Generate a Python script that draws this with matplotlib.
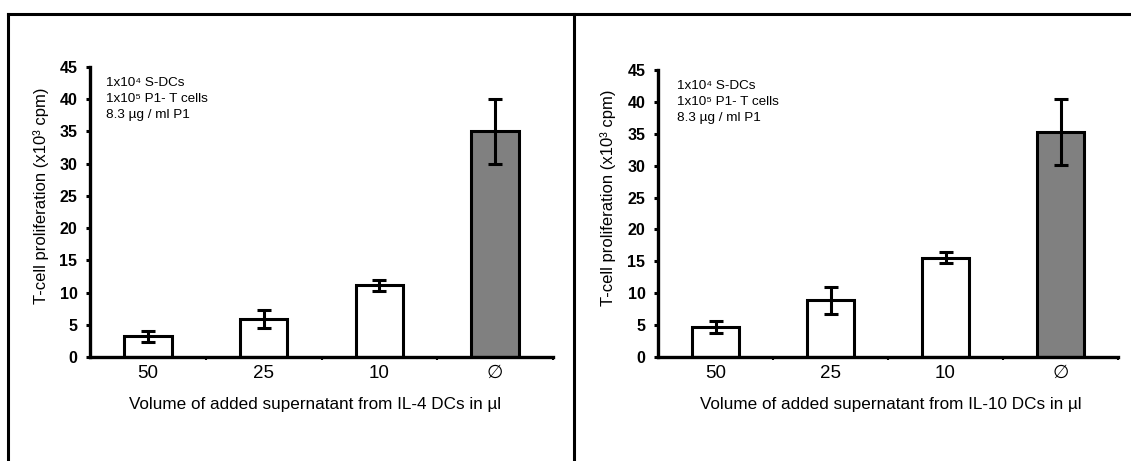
import matplotlib
matplotlib.use('Agg')
import matplotlib.pyplot as plt
from matplotlib.lines import Line2D
import numpy as np

plt.rcParams['font.family'] = ['Liberation Sans', 'DejaVu Sans']

categories = ['50', '25', '10', '\u2205']

il4_vals = [3.2, 5.9, 11.1, 35.0]
il4_err = [0.9, 1.4, 0.9, 5.0]

il10_vals = [4.7, 8.9, 15.6, 35.3]
il10_err = [0.9, 2.1, 0.9, 5.2]

bar_colors = ['white', 'white', 'white', '#808080']

W, H = 1131, 461
fig = plt.figure(figsize=(W / 100, H / 100), dpi=100)


def panel(rect, vals, errs, xlabel, xl_x, yl_x, txt_x):
    ax = fig.add_axes(rect)
    x = np.arange(len(vals)) + 0.5
    ax.bar(x, vals, width=0.41, color=bar_colors, edgecolor='black',
           linewidth=2.2, zorder=2)
    ax.errorbar(x, vals, yerr=errs, fmt='none', ecolor='black',
                elinewidth=2.2, capsize=5.2, capthick=2.2, zorder=3)
    ax.set_xlim(0, 4)
    ax.set_ylim(0, 45)
    for s in ['top', 'right']:
        ax.spines[s].set_visible(False)
    for s in ['left', 'bottom']:
        ax.spines[s].set_linewidth(2.4)
    ax.set_yticks(range(0, 46, 5))
    ax.tick_params(axis='y', direction='out', length=3, width=2.2, pad=6)
    for lab in ax.get_yticklabels():
        lab.set_fontweight('bold')
        lab.set_fontsize(11.5)
    ax.set_xticks([1, 2, 3, 4])
    ax.set_xticklabels([])
    ax.tick_params(axis='x', which='major', direction='out', length=2, width=1.5)
    ax.set_xticks(x, minor=True)
    ax.set_xticklabels(categories, minor=True, fontsize=13.5)
    ax.tick_params(axis='x', which='minor', length=0, pad=6)
    ax.set_xlabel(xlabel, fontsize=12.3)
    ax.xaxis.set_label_coords(xl_x, -0.138)
    ax.set_ylabel('T-cell proliferation (x10\u00b3 cpm)', fontsize=12)
    ax.yaxis.set_label_coords(yl_x, 0.555)
    ax.text(txt_x, 0.965,
            '1x10\u2074 S-DCs\n1x10\u2075 P1- T cells\n8.3 \u00b5g / ml P1',
            transform=ax.transAxes, fontsize=9.7, va='top', ha='left',
            linespacing=1.45)
    return ax


panel([90 / W, 104 / H, 463 / W, 290 / H], il4_vals, il4_err,
      'Volume of added supernatant from IL-4 DCs in \u00b5l', 0.487, -0.088, 0.035)
panel([658 / W, 104 / H, 460 / W, 287 / H], il10_vals, il10_err,
      'Volume of added supernatant from IL-10 DCs in \u00b5l', 0.507, -0.092, 0.041)

# frame lines around the figure
top_y = 1 - 14 / H
fig.add_artist(Line2D([8 / W, 1], [top_y, top_y], color='black', lw=2.2))
fig.add_artist(Line2D([8 / W, 8 / W], [0, top_y], color='black', lw=2.2))
fig.add_artist(Line2D([574 / W, 574 / W], [0, top_y], color='black', lw=2.2))

fig.savefig('out.png', dpi=100)
